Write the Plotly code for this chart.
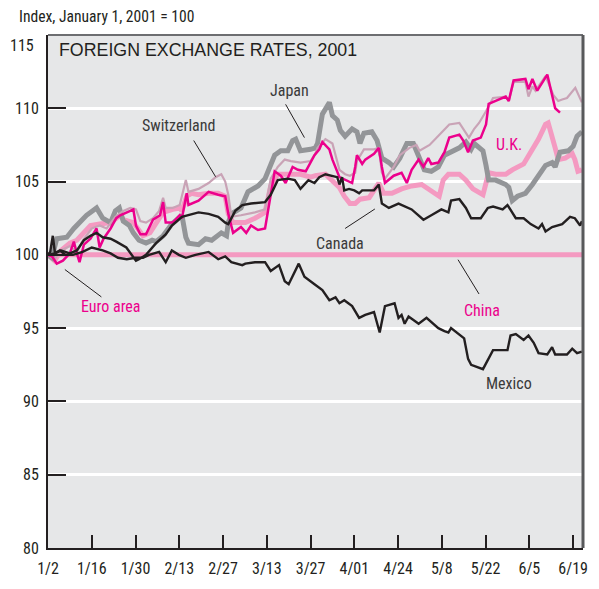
import plotly.graph_objects as go

# x = business-day index since Jan 2, 2001 (10 business days per tick)
tick_days = [0, 10, 20, 30, 40, 50, 60, 70, 80, 90, 100, 110, 120]
tick_labels = ["1/2", "1/16", "1/30", "2/13", "2/27", "3/13", "3/27", "4/01", "4/24", "5/8", "5/22", "6/5", "6/19"]
y_ticks = [80, 85, 90, 95, 100, 105, 110, 115]
y_labels = ["80", "85", "90", "95", "100", "105", "110", ""]
top_label = "115"

japan_x = [0, 0.9, 2, 4.3, 5.9, 7.5, 8.8, 11.1, 12.5, 14.3, 15.4, 16.3, 17.2, 18.6, 19.5, 20.8, 22.4, 23.8, 24.7, 26.3, 28.3, 30.6, 31.5, 32.1, 34.4, 36, 37.4, 39.6, 40.8, 41.2, 41.9, 44.1, 45.7, 48, 49.6, 51.8, 53.2, 54.8, 55.9, 56.6, 57.7, 60, 61.1, 61.6, 62.7, 64.3, 65, 66.1, 66.8, 67.9, 69.5, 70.6, 71.3, 72.2, 74, 75.2, 76.3, 77.9, 79, 80.4, 82, 83.5, 84.7, 86, 87.6, 89.2, 90.6, 92.6, 94, 95.5, 96.7, 97.4, 99.4, 100.1, 100.7, 102.3, 104.6, 105.3, 106.1, 107.3, 109.1, 110.7, 112.1, 113.7, 115.2, 115.9, 117, 118.9, 120, 120.9, 122]
japan_y = [100.0, 99.8, 101.1, 101.2, 101.8, 102.3, 102.7, 103.2, 102.5, 102.2, 103.0, 103.2, 102.3, 102.0, 101.5, 101.0, 100.8, 101.0, 100.9, 101.3, 102.1, 102.7, 101.2, 100.8, 100.7, 101.1, 101.0, 101.5, 101.3, 102.2, 102.8, 103.2, 104.3, 104.7, 105.2, 106.8, 107.1, 107.1, 107.8, 107.9, 107.1, 107.2, 107.3, 107.6, 109.6, 110.4, 109.5, 109.2, 108.5, 108.1, 108.6, 108.4, 107.6, 108.3, 108.4, 107.8, 106.6, 106.3, 106.0, 106.6, 107.6, 107.6, 106.7, 105.8, 105.7, 106.0, 106.8, 107.1, 107.3, 107.7, 107.2, 107.6, 107.1, 106.1, 105.1, 105.1, 104.8, 104.6, 103.7, 104.0, 104.2, 104.8, 105.4, 106.1, 106.3, 106.0, 107.0, 107.1, 107.4, 108.1, 108.4]

swiss_x = [0, 1.5, 3, 5, 6.6, 8, 10, 11.8, 13.4, 15.4, 17.2, 18.8, 20.1, 21.1, 22.4, 24, 25.4, 26.3, 26.9, 28.5, 30.1, 31.5, 32.1, 34.4, 36.7, 38.3, 39.6, 40.5, 41.2, 41.9, 44.1, 47.3, 49.6, 50.9, 52.5, 54.1, 55.5, 57.7, 60, 61.1, 61.6, 63.4, 65, 66.6, 67.9, 69, 70.2, 70.6, 72.2, 74.5, 75.6, 76.3, 77, 79, 80.4, 82.6, 84.2, 84.9, 87.2, 89.4, 91.7, 94, 96.2, 97.4, 98.5, 100.1, 101.7, 104.6, 105.3, 106.4, 109.1, 109.8, 110.7, 111.4, 113.7, 115.5, 116.6, 117.5, 118.6, 120.5, 122]
swiss_y = [100.0, 99.7, 100.3, 100.6, 100.2, 101.0, 101.8, 102.0, 101.8, 102.6, 103.0, 103.2, 103.1, 102.3, 102.2, 102.5, 103.0, 103.9, 103.2, 103.2, 103.4, 105.1, 104.3, 104.5, 104.9, 105.3, 105.5, 105.0, 104.1, 102.6, 102.7, 102.9, 103.1, 105.2, 106.0, 106.5, 106.4, 106.3, 106.4, 106.9, 107.3, 107.9, 107.6, 105.8, 105.5, 105.4, 105.6, 106.4, 107.2, 107.2, 107.3, 105.6, 105.2, 106.0, 106.8, 107.3, 107.5, 107.1, 107.5, 108.2, 108.9, 109.0, 108.0, 108.6, 109.0, 109.8, 110.7, 110.8, 110.5, 111.8, 111.8, 110.8, 111.5, 111.2, 112.2, 110.9, 110.5, 110.6, 110.7, 111.4, 110.4]

euro_x = [0, 0.9, 2, 3.4, 5, 5.9, 6.6, 7.2, 8.2, 9.7, 11.1, 11.8, 12.7, 14.3, 15.6, 16.5, 18.8, 19.5, 20.1, 21.1, 22.4, 24, 25.6, 26.3, 26.9, 28.5, 30.1, 30.6, 31.7, 32.1, 34.4, 36.7, 38.9, 40.5, 41.2, 42.3, 44.1, 45.3, 46.4, 48, 49.6, 50.7, 51.8, 53.2, 54.3, 55.9, 57.1, 58.9, 60.9, 62, 62.7, 64.3, 65, 66.6, 68.8, 69.5, 70.2, 70.6, 71.8, 72.5, 74.5, 75.6, 76.3, 77, 79, 80.8, 82, 83.1, 84.7, 85.8, 86.9, 87.6, 89.2, 90.6, 91.7, 94, 94.9, 96, 97.1, 98.9, 100.1, 100.7, 102.3, 104.6, 105.3, 106.4, 109.1, 109.8, 110.7, 111.8, 114.1, 115.9, 117]
euro_y = [100.0, 99.9, 99.4, 99.6, 100.1, 100.9, 100.1, 99.5, 100.7, 101.1, 101.8, 100.5, 101.1, 101.8, 102.5, 102.7, 103.0, 103.1, 102.0, 101.4, 101.4, 102.4, 102.7, 103.6, 102.2, 102.2, 102.7, 102.5, 104.2, 103.4, 103.7, 104.3, 104.1, 104.0, 102.8, 101.5, 101.9, 101.5, 102.0, 101.7, 101.8, 103.8, 105.7, 105.4, 104.9, 106.0, 105.8, 105.7, 106.8, 107.2, 107.7, 107.2, 106.5, 105.3, 105.0, 104.9, 106.0, 106.8, 106.2, 106.5, 106.9, 107.3, 106.0, 104.9, 105.4, 105.6, 104.9, 105.8, 106.5, 106.0, 106.6, 106.2, 106.3, 107.0, 108.0, 108.2, 107.8, 107.0, 107.8, 108.0, 108.9, 110.3, 110.5, 110.8, 110.5, 111.9, 112.0, 111.3, 112.0, 111.2, 112.3, 110.0, 109.7]

uk_x = [0, 1.5, 3, 5, 6.6, 8.5, 9.7, 11.8, 14.3, 16.5, 17.2, 19.5, 20.8, 21.7, 23.3, 24.7, 26.3, 28.5, 30.1, 30.6, 31.7, 32.8, 34.4, 36.7, 38.9, 40.5, 41.2, 42.3, 45.1, 47.3, 49.6, 50.9, 52.5, 54.8, 57.7, 60, 61.1, 63.4, 65, 66.6, 67.7, 69, 70.2, 71.3, 73.4, 74.7, 75.6, 76.7, 78.6, 80.8, 83.1, 85.4, 86.9, 88.3, 89.4, 90.3, 91.5, 94, 95.5, 97.1, 99.4, 100.7, 102.3, 104.6, 106.1, 108.7, 110.7, 112.1, 113.7, 114.3, 115.9, 116.6, 118.2, 119.8, 120.4, 121.1, 122]
uk_y = [100.0, 99.6, 100.3, 100.8, 101.0, 101.6, 102.0, 102.1, 102.2, 102.7, 102.4, 102.2, 101.6, 101.3, 101.5, 102.2, 102.9, 103.1, 103.2, 103.0, 104.0, 104.2, 104.1, 104.2, 104.2, 104.0, 102.8, 102.2, 102.2, 102.5, 102.9, 104.7, 105.5, 105.5, 105.5, 105.3, 105.4, 105.5, 105.1, 104.6, 104.0, 103.5, 103.5, 103.8, 103.9, 104.5, 104.9, 104.2, 104.2, 104.5, 104.7, 104.8, 104.5, 104.3, 104.0, 105.1, 105.5, 105.5, 105.1, 104.5, 104.1, 105.6, 105.5, 105.5, 105.8, 106.2, 107.2, 107.9, 108.9, 109.0, 107.3, 106.5, 106.6, 106.9, 106.5, 105.7, 105.8]

canada_x = [0, 0.5, 1.1, 1.6, 3, 5, 6.6, 8.2, 9.7, 11.1, 12.5, 14.3, 15.6, 17.9, 20.1, 20.8, 22.4, 24.7, 26.9, 28.3, 30.6, 32.8, 34.4, 36.7, 38.9, 40.5, 41.2, 42.8, 44.4, 46.4, 49.6, 50.9, 52.5, 54.8, 56.4, 57.7, 59.5, 60.9, 62, 63.4, 65, 66.1, 66.6, 67.2, 67.7, 68.8, 70, 71.1, 71.8, 73.4, 74.5, 75.6, 76.3, 77.9, 80.1, 83.1, 85.8, 87.6, 89.9, 91.5, 92.1, 94, 95.5, 96.7, 98.9, 100.5, 101.7, 103.9, 105, 106.9, 108.7, 110.3, 112.1, 112.9, 113.7, 115.2, 117.5, 119.3, 120.4, 121.6, 122]
canada_y = [100.0, 100.2, 101.3, 100.1, 100.3, 100.1, 100.3, 101.0, 101.3, 101.5, 101.2, 101.1, 100.9, 100.5, 99.6, 99.7, 100.0, 100.8, 101.4, 102.0, 102.6, 102.8, 102.9, 102.8, 102.6, 102.2, 102.1, 103.0, 103.4, 103.5, 103.6, 104.1, 105.1, 105.2, 105.1, 104.5, 105.1, 104.9, 105.3, 105.5, 105.4, 105.3, 104.8, 105.3, 104.4, 104.5, 104.4, 104.2, 104.4, 104.4, 104.4, 104.8, 103.5, 103.2, 103.5, 103.1, 102.4, 102.7, 103.1, 102.9, 103.7, 103.8, 103.2, 102.5, 102.5, 103.2, 103.3, 103.1, 103.4, 102.5, 102.5, 102.1, 101.8, 102.1, 101.6, 101.9, 102.1, 102.6, 102.5, 102.0, 102.3]

mexico_x = [0, 1.5, 2.7, 4, 5.7, 7.9, 10, 12.5, 14.3, 16, 18, 20, 21.7, 23.1, 25.4, 26.9, 28.3, 29.9, 31.5, 33.7, 36.7, 38.9, 40.5, 41.9, 44.4, 45.1, 47.3, 49.6, 50.9, 52.8, 54.1, 55, 57.3, 58.6, 60.9, 62.7, 64.3, 65.7, 66.6, 67.7, 69.5, 71.1, 72.5, 74.5, 75.8, 77, 79.2, 80.1, 80.8, 81.5, 82.4, 84.7, 86.5, 89.2, 90.6, 91.5, 92.1, 95.1, 96, 96.7, 99.4, 101.7, 105, 105.7, 106.9, 108.7, 109.8, 111, 112.1, 114.1, 115.2, 115.9, 118.6, 119.8, 120.9, 122]
mexico_y = [100.0, 100.1, 100.3, 100.0, 100.0, 100.2, 100.5, 100.3, 100.1, 99.8, 99.7, 99.8, 99.8, 100.0, 100.2, 99.5, 100.3, 100.0, 99.8, 100.0, 100.2, 99.7, 99.9, 99.5, 99.3, 99.4, 99.5, 99.5, 98.9, 99.3, 98.2, 98.0, 99.4, 98.5, 98.0, 97.6, 96.9, 97.1, 96.7, 96.9, 96.5, 95.7, 95.9, 96.1, 94.7, 96.5, 96.7, 95.7, 95.9, 95.3, 95.8, 95.3, 95.7, 95.0, 94.8, 94.7, 95.0, 94.3, 92.9, 92.5, 92.2, 93.5, 93.5, 94.5, 94.6, 94.2, 94.5, 94.0, 93.3, 93.2, 93.7, 93.2, 93.2, 93.6, 93.3, 93.4]

china_x = [0, 122.26]
china_y = [100.0, 100.0]

BLACK = "#231f20"
GRAY = "#939598"
MAUVE = "#c9a3b6"
MAGENTA = "#ec008c"
PINK = "#f49ac1"
LABEL_GRAY = "#3a3a3a"
NARROW = "Liberation Sans Narrow, Arial Narrow, Roboto Condensed, sans-serif"

fig = go.Figure()

def add(x, y, color, width):
    fig.add_trace(go.Scatter(x=x, y=y, mode="lines", line=dict(color=color, width=width),
                             hoverinfo="skip", showlegend=False))

add(china_x, china_y, PINK, 5)
add(uk_x, uk_y, PINK, 5)
add(japan_x, japan_y, GRAY, 5)
add(swiss_x, swiss_y, MAUVE, 2.2)
add(euro_x, euro_y, MAGENTA, 2.5)
add(canada_x, canada_y, BLACK, 2.4)
add(mexico_x, mexico_y, BLACK, 2.4)

labels = [
    ("Japan", 55.2, 111.2, LABEL_GRAY),
    ("Switzerland", 29.9, 108.8, LABEL_GRAY),
    ("Canada", 66.8, 100.8, LABEL_GRAY),
    ("Euro area", 14.5, 96.5, MAGENTA),
    ("China", 99.2, 96.2, MAGENTA),
    ("Mexico", 105.3, 91.2, LABEL_GRAY),
    ("U.K.", 105.3, 107.5, MAGENTA),
]
for t, x, y, c in labels:
    fig.add_annotation(x=x, y=y, text=t, showarrow=False, xref="x", yref="y",
                       font=dict(family=NARROW, size=16, color=c))

leaders = [
    (54.3, 110.27, 58.6, 108.0),
    (33.3, 107.8, 38.3, 105.33),
    (3.85, 99.0, 12.2, 97.13),
    (67.9, 101.8, 74.7, 103.13),
    (93.7, 99.67, 98.5, 97.33),
]
for x0, y0, x1, y1 in leaders:
    fig.add_shape(type="line", x0=x0, y0=y0, x1=x1, y1=y1, xref="x", yref="y",
                  line=dict(color=BLACK, width=1))

# top and right frame lines
fig.add_shape(type="line", xref="paper", yref="paper", x0=0, y0=1, x1=1, y1=1,
              line=dict(color="#6d6e71", width=2))
fig.add_shape(type="line", xref="paper", yref="paper", x0=1, y0=0, x1=1, y1=1,
              line=dict(color="#58595b", width=3))

# top y label sits just below the frame top
fig.add_annotation(xref="paper", yref="paper", x=-0.0222, y=1.0, xanchor="right", yanchor="top",
                   text=top_label, showarrow=False, yshift=1,
                   font=dict(family=NARROW, size=16, color=BLACK))
fig.add_annotation(xref="paper", yref="paper", x=0.0167, y=0.9713, xanchor="left", yanchor="middle",
                   text="FOREIGN EXCHANGE RATES, 2001", showarrow=False,
                   font=dict(family="Liberation Sans, Arial, sans-serif", size=17.8, color=BLACK))
fig.add_annotation(xref="paper", yref="paper", x=-0.0574, y=1.0344, xanchor="left", yanchor="middle",
                   text="Index, January 1, 2001 = 100", showarrow=False,
                   font=dict(family=NARROW, size=15.6, color=BLACK))

fig.update_layout(
    width=591, height=581,
    margin=dict(l=48, r=3, t=35, b=23),
    paper_bgcolor="white", plot_bgcolor="#e6e7e8",
    hovermode=False,
    xaxis=dict(range=[0, 122.26], tickmode="array", tickvals=tick_days, ticktext=tick_labels,
               ticks="inside", ticklen=13, tickwidth=2, tickcolor=BLACK,
               showline=True, linecolor=BLACK, linewidth=2, showgrid=False, zeroline=False,
               tickfont=dict(family=NARROW, size=16, color=BLACK), ticklabelstandoff=5,
               ticklabeloverflow="allow"),
    yaxis=dict(range=[80, 115], tickmode="array", tickvals=y_ticks, ticktext=y_labels,
               ticks="inside", ticklen=18, tickwidth=2, tickcolor=BLACK,
               showline=True, linecolor=BLACK, linewidth=2, showgrid=True,
               gridcolor="white", gridwidth=3, zeroline=False,
               tickfont=dict(family=NARROW, size=16, color=BLACK), ticklabelstandoff=4),
)

post = (
    "document.body.style.margin='0';document.body.style.overflow='hidden';"
    "var s=document.querySelectorAll('.main-svg');"
    "for(var i=0;i<s.length;i++){s[i].style.overflow='visible';}"
)
fig.write_html("out.html", config={"displayModeBar": False}, post_script=post)
